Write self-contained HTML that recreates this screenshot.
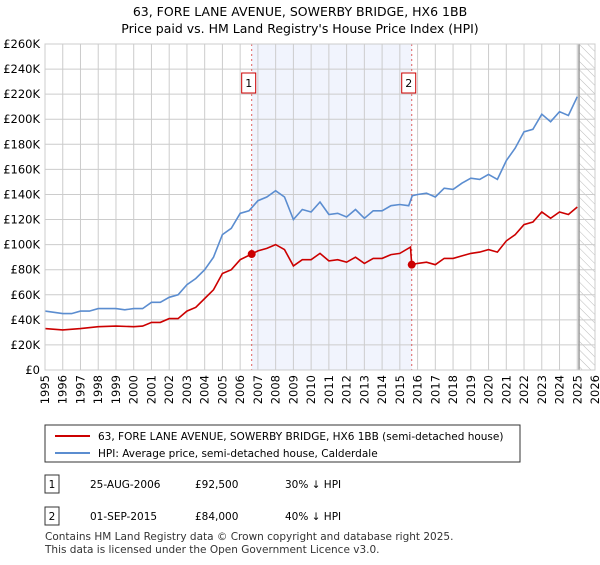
<!DOCTYPE html>
<html><head><meta charset="utf-8"><style>
body{margin:0;background:#fff;font-family:"Liberation Sans","DejaVu Sans",sans-serif;}
text{font-family:"DejaVu Sans","Liberation Sans",sans-serif;}
</style></head><body>
<svg id="chart" width="600" height="560" viewBox="0 0 600 560" xmlns="http://www.w3.org/2000/svg">
<text x="300" y="16" text-anchor="middle" font-size="12.5">63, FORE LANE AVENUE, SOWERBY BRIDGE, HX6 1BB</text>
<text x="300" y="33" text-anchor="middle" font-size="12.5">Price paid vs. HM Land Registry's House Price Index (HPI)</text>
<g id="plot"></g>
<g>
<rect x="45" y="425" width="475" height="37" fill="#fff" stroke="#333"/>
<line x1="55" y1="436" x2="90" y2="436" stroke="#cc0000" stroke-width="2"/>
<text x="98" y="440" font-size="10.5">63, FORE LANE AVENUE, SOWERBY BRIDGE, HX6 1BB (semi-detached house)</text>
<line x1="55" y1="453" x2="90" y2="453" stroke="#5b8dd0" stroke-width="2"/>
<text x="98" y="457" font-size="10.5">HPI: Average price, semi-detached house, Calderdale</text>
</g>
<g font-size="10.5">
<rect x="45" y="475" width="14" height="18" fill="#fff" stroke="#333"/><text x="52" y="488" text-anchor="middle">1</text>
<text x="90" y="488">25-AUG-2006</text><text x="195" y="488">£92,500</text><text x="285" y="488">30% ↓ HPI</text>
<rect x="45" y="507" width="14" height="18" fill="#fff" stroke="#333"/><text x="52" y="520" text-anchor="middle">2</text>
<text x="90" y="520">01-SEP-2015</text><text x="195" y="520">£84,000</text><text x="285" y="520">40% ↓ HPI</text>
</g>
<text x="45" y="540" font-size="10.5" fill="#333">Contains HM Land Registry data © Crown copyright and database right 2025.</text>
<text x="45" y="553" font-size="10.5" fill="#333">This data is licensed under the Open Government Licence v3.0.</text>
</svg>
<script>
const yTicks=[0,20,40,60,80,100,120,140,160,180,200,220,240,260];
const years=[1995,1996,1997,1998,1999,2000,2001,2002,2003,2004,2005,2006,2007,2008,2009,2010,2011,2012,2013,2014,2015,2016,2017,2018,2019,2020,2021,2022,2023,2024,2025,2026];
const hpiT=[1995,1995.5,1996,1996.5,1997,1997.5,1998,1998.5,1999,1999.5,2000,2000.5,2001,2001.5,2002,2002.5,2003,2003.5,2004,2004.5,2005,2005.5,2006,2006.5,2007,2007.5,2008,2008.5,2009,2009.5,2010,2010.5,2011,2011.5,2012,2012.5,2013,2013.5,2014,2014.5,2015,2015.5,2015.7,2016,2016.5,2017,2017.5,2018,2018.5,2019,2019.5,2020,2020.5,2021,2021.5,2022,2022.5,2023,2023.5,2024,2024.5,2025];
const hpiV=[47,46,45,45,47,47,49,49,49,48,49,49,54,54,58,60,68,73,80,90,108,113,125,127,135,138,143,138,120,128,126,134,124,125,122,128,121,127,127,131,132,131,139,140,141,138,145,144,149,153,152,156,152,167,177,190,192,204,198,206,203,218];
const ppT=[1995,1996,1997,1998,1999,2000,2000.5,2001,2001.5,2002,2002.5,2003,2003.5,2004,2004.5,2005,2005.5,2006,2006.65,2007,2007.5,2008,2008.5,2009,2009.5,2010,2010.5,2011,2011.5,2012,2012.5,2013,2013.5,2014,2014.5,2015,2015.6,2015.67,2016,2016.5,2017,2017.5,2018,2018.5,2019,2019.5,2020,2020.5,2021,2021.5,2022,2022.5,2023,2023.5,2024,2024.5,2025];
const ppV=[33,32,33,34.5,35,34.5,35,38,38,41,41,47,50,57,64,77,80,88,92.5,95,97,100,96,83,88,88,93,87,88,86,90,85,89,89,92,93,98,84,85,86,84,89,89,91,93,94,96,94,103,108,116,118,126,121,126,124,130];
const saleT=[2006.65,2015.67];
const saleV=[92.5,84];
const saleLabels=["1","2"];
const X0=45,X1=595,Y0=370,Y1=44;
const x=t=>X0+(t-1995)/31*(X1-X0);
const y=v=>Y0-v/260*(Y0-Y1);
const NS="http://www.w3.org/2000/svg";
const g=document.getElementById('plot');
function mk(tag,attrs){const e=document.createElementNS(NS,tag);for(const k in attrs)e.setAttribute(k,attrs[k]);g.appendChild(e);return e;}
let e=mk('rect',{x:x(saleT[0]),y:Y1,width:x(saleT[1])-x(saleT[0]),height:Y0-Y1,fill:'#f1f4fd'});


const defs=document.createElementNS(NS,'defs');defs.innerHTML='<pattern id="hatch" width="6" height="6" patternUnits="userSpaceOnUse" patternTransform="rotate(-45)"><line x1="0" y1="0" x2="0" y2="6" stroke="#bbb" stroke-width="1"/></pattern>';g.appendChild(defs);
e=mk('rect',{x:x(2025.1),y:Y1,width:X1-x(2025.1),height:Y0-Y1,fill:'url(#hatch)'});


yTicks.forEach(v=>{
 let l=mk('line',{x1:X0,x2:X1,y1:y(v),y2:y(v),stroke:'#ccc'});
 
 
 let t=mk('text',{x:X0-5,y:y(v)+4,'text-anchor':'end','font-size':'11.5'});t.textContent='£'+(v?v+'K':'0');
 
 
});
years.forEach(yr=>{
 let l=mk('line',{x1:x(yr),x2:x(yr),y1:Y1,y2:Y0,stroke:'#ccc'});
 
 
 let t=mk('text',{x:0,y:0,'font-size':'11.5','text-anchor':'end',transform:`translate(${x(yr)+4},${Y0+5}) rotate(-90)`});t.textContent=yr;
 
 
});
e=mk('line',{x1:x(2025.1),x2:x(2025.1),y1:Y1,y2:Y0,stroke:'#999','stroke-width':1.5});


saleT.forEach((t,i)=>{
 let l=mk('line',{x1:x(t),x2:x(t),y1:Y1,y2:Y0,stroke:'#e06060','stroke-dasharray':'2,3'});
 
 
 let r=mk('rect',{x:x(t)-10,y:73,width:14,height:20,fill:'#fff',stroke:'#c00'});
 
 
 let tx=mk('text',{x:x(t)-3,y:87,'text-anchor':'middle','font-size':'11'});tx.textContent=saleLabels[i];
 
 
});
e=mk('path',{d:hpiT.map((t,i)=>(i?'L':'M')+x(t).toFixed(1)+','+y(hpiV[i]).toFixed(1)).join(''),fill:'none',stroke:'#5b8dd0','stroke-width':1.6});


e=mk('path',{d:ppT.map((t,i)=>(i?'L':'M')+x(t).toFixed(1)+','+y(ppV[i]).toFixed(1)).join(''),fill:'none',stroke:'#cc0000','stroke-width':1.6});


saleT.forEach((t,i)=>{
 let c=mk('circle',{cx:x(t),cy:y(saleV[i]),r:4,fill:'#cc0000'});
 
 
});
e=mk('rect',{x:X0,y:Y1,width:X1-X0,height:Y0-Y1,fill:'none',stroke:'#ccc'});


</script>
</body></html>
